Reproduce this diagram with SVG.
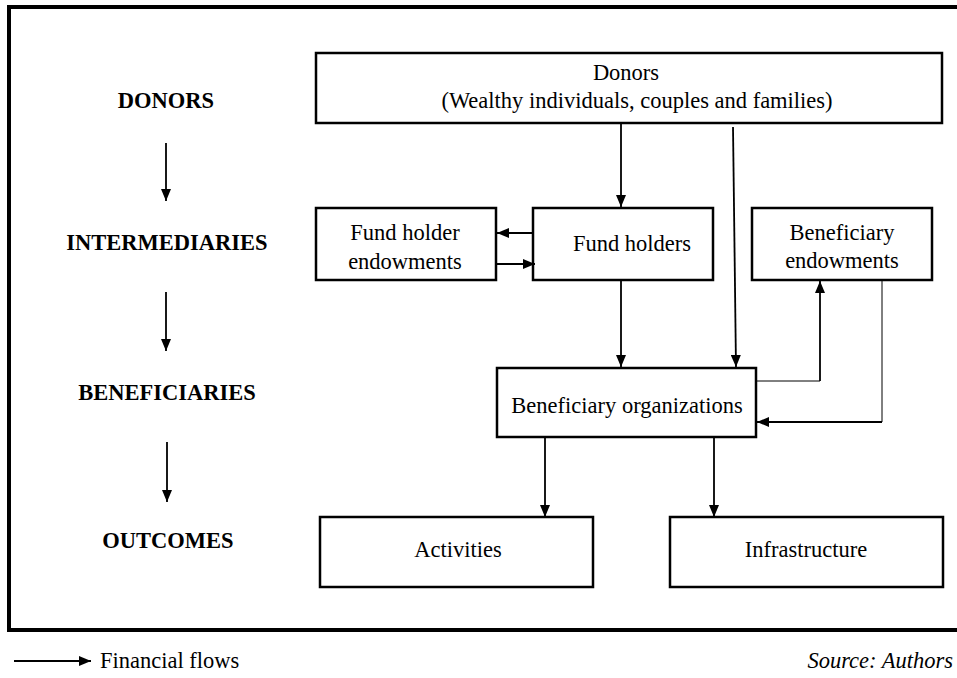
<svg xmlns="http://www.w3.org/2000/svg" width="957" height="678" viewBox="0 0 957 678">
<defs>
<marker id="ah" viewBox="0 0 12 10" refX="12" refY="5" markerWidth="12" markerHeight="10" markerUnits="userSpaceOnUse" orient="auto">
<path d="M0,0 L12,5 L0,10 Z" fill="#000"/>
</marker>
</defs>
<style>
.box{fill:#fff;stroke:#000;stroke-width:2.5}
.t{font-family:"Liberation Serif","Times New Roman",serif;font-size:22.5px;fill:#000;text-anchor:middle}
.lb{font-family:"Liberation Serif","Times New Roman",serif;font-size:22.5px;font-weight:bold;fill:#000;text-anchor:middle}
.c{fill:none;stroke:#000;stroke-width:1.8}
.thin{fill:none;stroke:#000;stroke-width:1}
</style>
<rect x="0" y="0" width="957" height="678" fill="#fff"/>
<rect x="9" y="7" width="960" height="623" fill="none" stroke="#000" stroke-width="4"/>

<g id="stages">
<text class="lb" x="166" y="108">DONORS</text>
<text class="lb" x="167" y="250">INTERMEDIARIES</text>
<text class="lb" x="167" y="400">BENEFICIARIES</text>
<text class="lb" x="168" y="548">OUTCOMES</text>
</g>

<g id="node-donors">
<rect class="box" x="316" y="53" width="626" height="70"/>
<text class="t" x="626" y="80">Donors</text>
<text class="t" x="637" y="108">(Wealthy individuals, couples and families)</text>
</g>
<g id="node-fund-holder-endowments">
<rect class="box" x="316" y="208" width="180" height="72"/>
<text class="t" x="405" y="240">Fund holder</text>
<text class="t" x="405" y="269">endowments</text>
</g>
<g id="node-fund-holders">
<rect class="box" x="533" y="208" width="180" height="72"/>
<text class="t" x="632" y="251">Fund holders</text>
</g>
<g id="node-beneficiary-endowments">
<rect class="box" x="752" y="208" width="180" height="72"/>
<text class="t" x="842" y="240">Beneficiary</text>
<text class="t" x="842" y="268">endowments</text>
</g>
<g id="node-beneficiary-organizations">
<rect class="box" x="497" y="368" width="259" height="69"/>
<text class="t" x="627" y="413">Beneficiary organizations</text>
</g>
<g id="node-activities">
<rect class="box" x="320" y="517" width="273" height="70"/>
<text class="t" x="458" y="557">Activities</text>
</g>
<g id="node-infrastructure">
<rect class="box" x="670" y="517" width="273" height="70"/>
<text class="t" x="806" y="557">Infrastructure</text>
</g>

<g id="connectors">
<line class="c" x1="166" y1="143" x2="166" y2="201" marker-end="url(#ah)"/>
<line class="c" x1="166" y1="292" x2="166" y2="351" marker-end="url(#ah)"/>
<line class="c" x1="167" y1="442" x2="167" y2="502" marker-end="url(#ah)"/>
<line class="c" x1="621" y1="123" x2="621" y2="207" marker-end="url(#ah)"/>
<line class="c" x1="733" y1="127" x2="736" y2="367" marker-end="url(#ah)"/>
<line class="c" x1="533" y1="233" x2="497" y2="233" marker-end="url(#ah)"/>
<line class="c" x1="497" y1="264" x2="535" y2="264" marker-end="url(#ah)"/>
<line class="c" x1="621" y1="280" x2="621" y2="367" marker-end="url(#ah)"/>
<polyline class="thin" points="757,381 820,381"/>
<line class="c" x1="820" y1="381" x2="820" y2="281" marker-end="url(#ah)"/>
<polyline class="thin" points="882,281 882,422"/>
<line class="c" x1="882" y1="422" x2="757" y2="422" marker-end="url(#ah)"/>
<line class="c" x1="545" y1="437" x2="545" y2="517" marker-end="url(#ah)"/>
<line class="c" x1="714" y1="437" x2="714" y2="517" marker-end="url(#ah)"/>
</g>

<g id="legend">
<line class="c" x1="14" y1="661" x2="91" y2="661" marker-end="url(#ah)"/>
<text x="100" y="668" font-family="'Liberation Serif','Times New Roman',serif" font-size="22.5" fill="#000">Financial flows</text>
<text x="953" y="668" text-anchor="end" font-family="'Liberation Serif','Times New Roman',serif" font-size="22.5" font-style="italic" fill="#000">Source: Authors</text>
</g>
</svg>
